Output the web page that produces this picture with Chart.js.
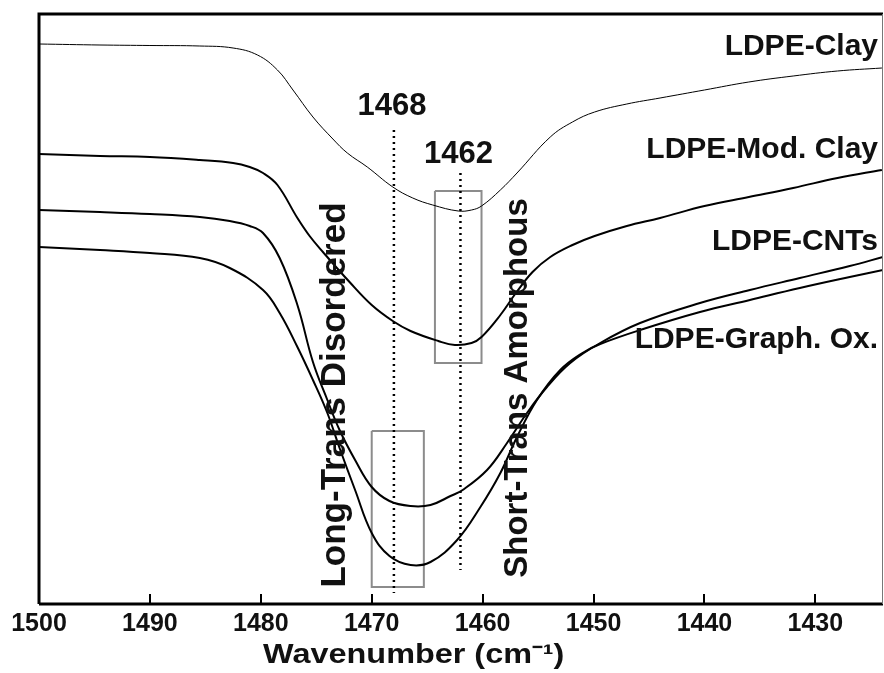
<!DOCTYPE html>
<html>
<head>
<meta charset="utf-8">
<script src="https://cdn.jsdelivr.net/npm/chart.js@4.4.1/dist/chart.umd.min.js"></script>
<style>
  html, body { margin: 0; padding: 0; background: #fff; }
  #wrap { width: 884px; height: 673px; }
</style>
</head>
<body>
<div id="wrap"><canvas id="ftir"></canvas></div>
<script>
// spectra: wavenumber (cm-1) and absorbance (a.u., offset)
const clayWn  = [1500, 1494.5, 1490, 1485.5, 1482.5, 1480.3, 1478.5, 1477.1, 1475.3, 1473.5, 1472.2, 1470.4, 1468.1, 1466.3, 1464.5, 1462.2, 1461, 1460.1, 1458.4, 1456.9, 1453.9, 1451.9, 1449.9, 1447, 1444, 1440, 1436, 1432, 1428, 1424];
const clayAbs = [5.60, 5.59, 5.585, 5.58, 5.56, 5.49, 5.34, 5.14, 4.87, 4.65, 4.51, 4.37, 4.17, 4.06, 3.99, 3.93, 3.94, 3.98, 4.14, 4.31, 4.67, 4.82, 4.92, 5.00, 5.06, 5.14, 5.22, 5.28, 5.33, 5.36];

const modClayWn  = [1500, 1494.5, 1490, 1485.5, 1482.5, 1481, 1479.8, 1478.5, 1476.7, 1475.6, 1474.4, 1472, 1470, 1468.1, 1466.5, 1464, 1462.5, 1461, 1460.1, 1458.4, 1457, 1455.5, 1453.9, 1451.9, 1449.9, 1447, 1444, 1440, 1436, 1432, 1428, 1424];
const modClayAbs = [4.50, 4.48, 4.47, 4.44, 4.41, 4.37, 4.31, 4.19, 3.86, 3.68, 3.52, 3.22, 2.99, 2.83, 2.73, 2.63, 2.59, 2.61, 2.67, 2.89, 3.11, 3.32, 3.47, 3.59, 3.68, 3.78, 3.86, 3.98, 4.07, 4.16, 4.26, 4.34];

const cntWn  = [1500, 1494.5, 1490, 1485.5, 1482.8, 1481, 1479.8, 1478.3, 1476.7, 1475.3, 1474, 1472.9, 1471.5, 1470, 1468.4, 1466.5, 1464.7, 1462.9, 1461.8, 1459.6, 1457.8, 1456, 1454.2, 1452.1, 1449.4, 1445.8, 1440.4, 1435.9, 1431.4, 1426.9, 1423.9];
const cntAbs = [3.94, 3.92, 3.90, 3.87, 3.83, 3.78, 3.71, 3.46, 2.99, 2.42, 2.04, 1.74, 1.44, 1.17, 1.03, 0.98, 0.99, 1.08, 1.14, 1.34, 1.61, 1.91, 2.17, 2.41, 2.61, 2.81, 3.01, 3.14, 3.26, 3.38, 3.47];

const goWn  = [1500, 1494.5, 1490, 1485.5, 1482.8, 1479.8, 1478.3, 1476.7, 1475.3, 1474, 1472.9, 1471.5, 1470, 1468.4, 1466.5, 1464.7, 1462.3, 1460.2, 1458.4, 1456.9, 1455.1, 1453, 1451, 1449.4, 1445.8, 1440.4, 1435.9, 1431.4, 1426.9, 1423.9];
const goAbs = [3.57, 3.54, 3.51, 3.46, 3.36, 3.14, 2.91, 2.57, 2.24, 1.91, 1.56, 1.14, 0.71, 0.48, 0.39, 0.42, 0.64, 0.97, 1.31, 1.67, 2.04, 2.34, 2.51, 2.60, 2.74, 2.92, 3.04, 3.16, 3.27, 3.34];

const seriesNames = ['LDPE-Clay', 'LDPE-Mod. Clay', 'LDPE-CNTs', 'LDPE-Graph. Ox.'];
const nameAbs = [5.49, 4.46, 3.54, 2.56];

// band markers and boxes
const markerWn = [1468, 1462];
const markerTop = [4.74, 4.31];
const markerBottom = [0.11, 0.34];
const markerLabelAbs = [4.89, 4.41];

const boxLeft = [1464.3, 1470];
const boxRight = [1460.1, 1465.3];
const boxTop = [4.13, 1.73];
const boxBottom = [2.41, 0.17];

const regionNames = ['Long-Trans Disordered', 'Short-Trans Amorphous'];
const regionWn = [1472.4, 1456.0];
const regionAbs = [2.09, 2.16];
const regionSize = [35, 33];

const xTicks = [1500, 1490, 1480, 1470, 1460, 1450, 1440, 1430];

const pts = (xs, ys) => xs.map((v, i) => ({ x: v, y: ys[i] }));

const spectrum = (label, xs, ys, w) => ({
    label, data: pts(xs, ys), borderColor: '#000', borderWidth: w,
    pointRadius: 0, tension: 0.4, fill: false
});

const datasets = [
    spectrum(seriesNames[0], clayWn, clayAbs, 1),
    spectrum(seriesNames[1], modClayWn, modClayAbs, 2),
    spectrum(seriesNames[2], cntWn, cntAbs, 2),
    spectrum(seriesNames[3], goWn, goAbs, 2)
];

markerWn.forEach((w, i) => datasets.push({
    label: 'marker ' + w,
    data: [{ x: w, y: markerTop[i] }, { x: w, y: markerBottom[i] }],
    borderColor: '#000', borderWidth: 2.5, borderDash: [2, 4], pointRadius: 0
}));

boxLeft.forEach((l, i) => datasets.push({
    label: 'box ' + i,
    data: [{ x: l, y: boxTop[i] }, { x: boxRight[i], y: boxTop[i] }, { x: boxRight[i], y: boxBottom[i] },
           { x: l, y: boxBottom[i] }, { x: l, y: boxTop[i] }],
    borderColor: '#8c8c8c', borderWidth: 2, pointRadius: 0
}));

const FONT = '"Liberation Sans", Arial, sans-serif';

const annotate = {
    id: 'annotate',
    afterDatasetsDraw(chart) {
        const { ctx, chartArea: a, scales: { x, y } } = chart;
        ctx.save();

        // frame
        ctx.strokeStyle = '#000';
        ctx.lineWidth = 3;
        ctx.beginPath();
        ctx.moveTo(a.left, a.bottom); ctx.lineTo(a.left, a.top); ctx.lineTo(a.right, a.top);
        ctx.moveTo(a.left, a.bottom); ctx.lineTo(a.right, a.bottom);
        ctx.stroke();
        ctx.strokeStyle = '#777';
        ctx.lineWidth = 1;
        ctx.beginPath(); ctx.moveTo(a.right - 0.5, a.top); ctx.lineTo(a.right - 0.5, a.bottom); ctx.stroke();

        // inward tick marks
        ctx.strokeStyle = '#000';
        ctx.lineWidth = 2;
        x.ticks.forEach(t => {
            const px = Math.round(x.getPixelForValue(t.value));
            ctx.beginPath(); ctx.moveTo(px, a.bottom); ctx.lineTo(px, a.bottom - 10); ctx.stroke();
        });

        ctx.fillStyle = '#111';
        ctx.textBaseline = 'alphabetic';

        // series names
        ctx.font = 'bold 30px ' + FONT;
        ctx.textAlign = 'right';
        seriesNames.forEach((n, i) => ctx.fillText(n, a.right - 5, y.getPixelForValue(nameAbs[i])));

        // marker labels
        ctx.font = 'bold 31px ' + FONT;
        ctx.textAlign = 'center';
        markerWn.forEach((w, i) => ctx.fillText(String(w), x.getPixelForValue(w) - 2, y.getPixelForValue(markerLabelAbs[i])));

        // rotated region labels
        regionNames.forEach((n, i) => {
            ctx.save();
            ctx.font = 'bold ' + regionSize[i] + 'px ' + FONT;
            ctx.translate(x.getPixelForValue(regionWn[i]), y.getPixelForValue(regionAbs[i]));
            ctx.rotate(-Math.PI / 2);
            ctx.fillText(n, 0, 0);
            ctx.restore();
        });

        // axis title (wide lettering as in the figure)
        ctx.save();
        ctx.font = 'bold 27px ' + FONT;
        ctx.translate(a.left + (a.right - a.left) * 0.444, chart.height - 10);
        ctx.scale(1.2, 1);
        ctx.fillText('Wavenumber (cm\u207B\u00B9)', 0, 0);
        ctx.restore();

        ctx.restore();
    }
};

new Chart(document.getElementById('ftir'), {
    type: 'line',
    data: { datasets },
    options: {
        responsive: true,
        maintainAspectRatio: false,
        animation: false,
        layout: { padding: { left: 39, top: 14, right: 1, bottom: 0 } },
        plugins: { legend: { display: false }, tooltip: { enabled: false } },
        scales: {
            x: {
                type: 'linear',
                reverse: true,
                min: 1423.9,
                max: 1500,
                afterBuildTicks: s => { s.ticks = xTicks.map(v => ({ value: v })); },
                afterFit: s => { s.height = 69; },
                grid: { display: false, drawTicks: false },
                border: { display: false },
                ticks: {
                    color: '#111', padding: 5,
                    font: { family: FONT, size: 25, weight: 'bold' },
                    callback: v => String(v)
                }
            },
            y: {
                display: false,
                min: 0,
                max: 5.9
            }
        }
    },
    plugins: [annotate]
});
</script>
</body>
</html>
